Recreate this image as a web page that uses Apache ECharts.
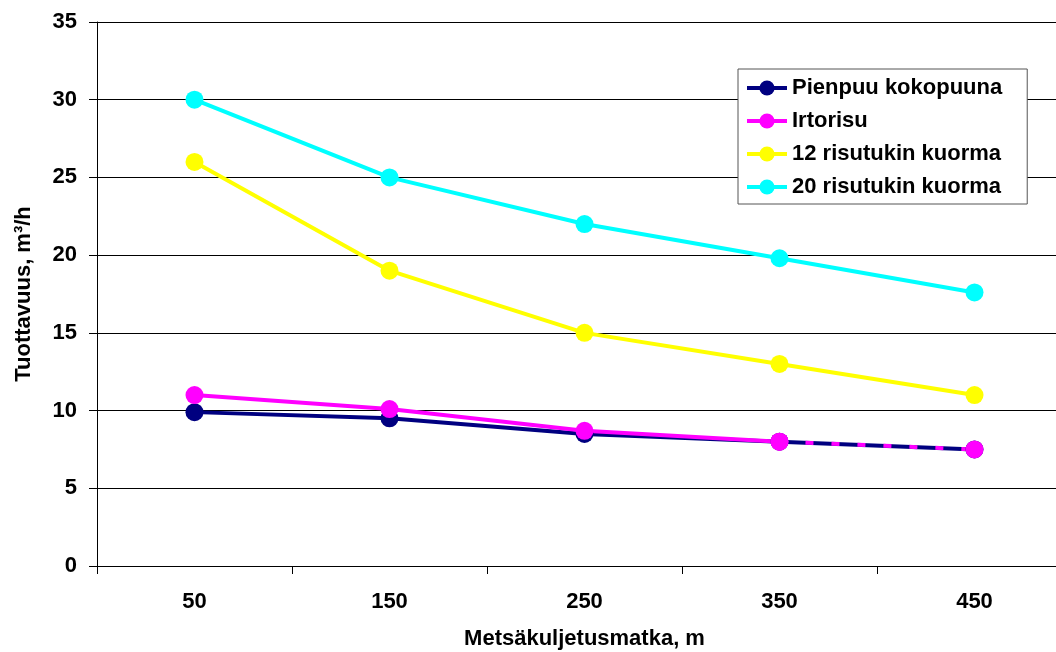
<!DOCTYPE html>
<html>
<head>
<meta charset="utf-8">
<script src="https://cdn.jsdelivr.net/npm/echarts@6/dist/echarts.min.js"></script>
<style>
  html, body { margin: 0; padding: 0; background: #fff; }
  #chart { width: 1056px; height: 652px; }
</style>
</head>
<body>
<div id="chart"></div>
<script>
// Forwarding distance categories (m)
const distances = ['50', '150', '250', '350', '450'];

// Productivity, m3/h
const pienpuu = [9.9, 9.5, 8.5, 8.0, 7.5];
const irtorisu = [11.0, 10.1, 8.7, 8.0, 7.5];
const risu12 = [26.0, 19.0, 15.0, 13.0, 11.0];
const risu20 = [30.0, 25.0, 22.0, 19.8, 17.6];

const seriesNames = ['Pienpuu kokopuuna', 'Irtorisu', '12 risutukin kuorma', '20 risutukin kuorma'];
const colors = ['#000080', '#FF00FF', '#FFFF00', '#00FFFF'];

const FONT = '"Liberation Sans", Arial, sans-serif';
const TXT = { fontFamily: FONT, fontWeight: 'bold', fontSize: 22, color: '#000' };

// Irtorisu: solid up to 350 m, dashed for the last leg
const irtSolid = irtorisu.map((v, i) => (i <= 3 ? v : '-'));
const irtDashed = irtorisu.map((v, i) => (i >= 3 ? v : '-'));

function lineSeries(name, data, color) {
  return {
    name: name,
    type: 'line',
    data: data,
    symbol: 'circle',
    symbolSize: 18,
    showAllSymbol: true,
    itemStyle: { color: color },
    lineStyle: { color: color, width: 4 },
    emphasis: { disabled: true },
    animation: false
  };
}

const chart = echarts.init(document.getElementById('chart'), null, { renderer: 'canvas' });

chart.setOption({
  backgroundColor: '#ffffff',
  animation: false,
  color: colors,
  grid: { left: 97, top: 22, width: 975, height: 544, containLabel: false, outerBoundsMode: 'none' },
  legend: {
    data: seriesNames,
    orient: 'vertical',
    left: 738,
    top: 69,
    padding: [7, 25, 5, 7],
    itemGap: 9,
    itemWidth: 40,
    itemHeight: 19,
    itemTextGap: 5,
    backgroundColor: '#ffffff',
    borderColor: '#555555',
    borderWidth: 1,
    lineStyle: { width: 4 },
    textStyle: Object.assign({}, TXT, { lineHeight: 24 })
  },
  xAxis: {
    type: 'category',
    data: distances,
    boundaryGap: true,
    name: 'Metsäkuljetusmatka, m',
    nameLocation: 'middle',
    nameGap: 62,
    nameTextStyle: TXT,
    axisLine: { lineStyle: { color: '#000', width: 1 } },
    axisTick: { show: true, alignWithLabel: false, length: 8, inside: false, lineStyle: { color: '#000' } },
    axisLabel: Object.assign({ margin: 25 }, TXT),
    splitLine: { show: false }
  },
  yAxis: {
    type: 'value',
    min: 0,
    max: 35,
    interval: 5,
    name: 'Tuottavuus, m³/h',
    nameLocation: 'middle',
    nameGap: 62,
    nameRotate: 90,
    nameTextStyle: TXT,
    axisLine: { show: true, lineStyle: { color: '#000', width: 1 } },
    axisTick: { show: true, length: 8, inside: false, lineStyle: { color: '#000' } },
    axisLabel: Object.assign({ margin: 20 }, TXT),
    splitLine: { show: true, lineStyle: { color: '#000', width: 1 } }
  },
  series: [
    lineSeries(seriesNames[0], pienpuu, colors[0]),
    lineSeries(seriesNames[1], irtSolid, colors[1]),
    Object.assign(lineSeries(seriesNames[1] + ' ', irtDashed, colors[1]), {
      lineStyle: { color: colors[1], width: 4, type: [8, 18] }
    }),
    lineSeries(seriesNames[2], risu12, colors[2]),
    lineSeries(seriesNames[3], risu20, colors[3])
  ]
});
</script>
</body>
</html>
